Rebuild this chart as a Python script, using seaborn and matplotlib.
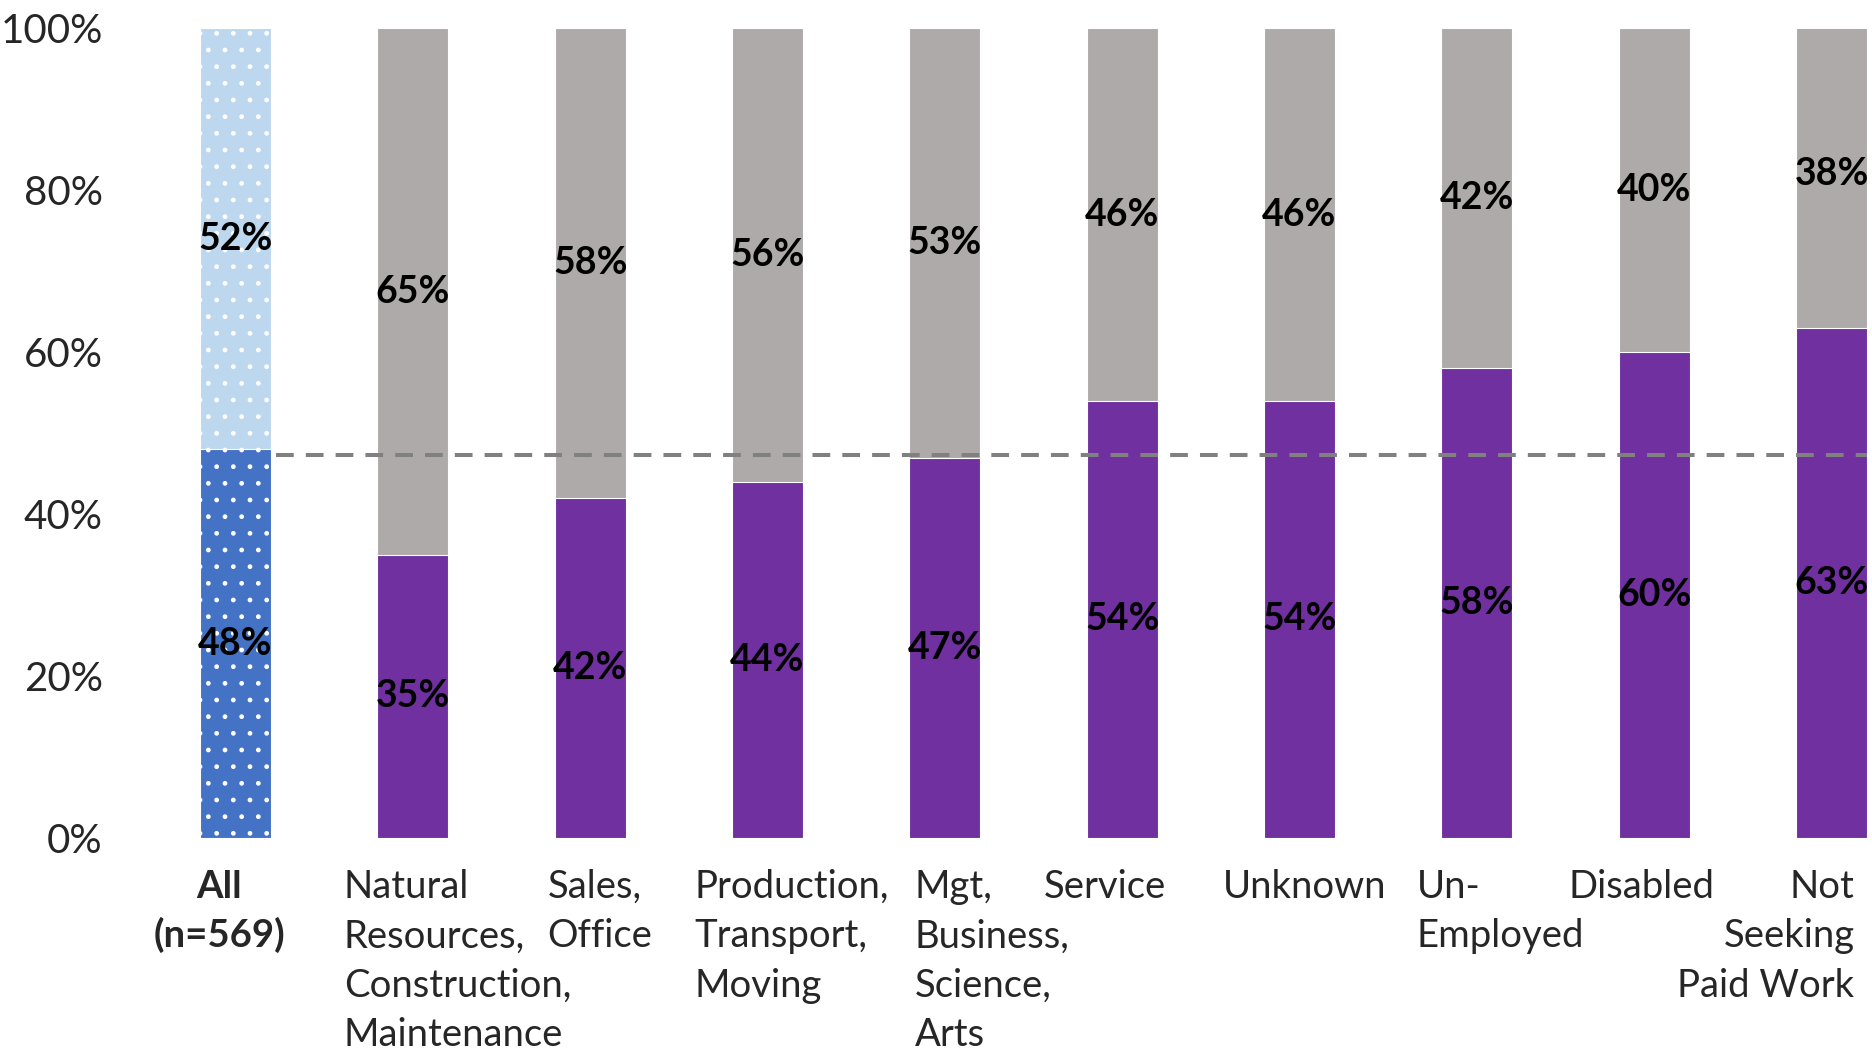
import matplotlib
matplotlib.use("Agg")
import matplotlib.pyplot as plt
import seaborn as sns
import pandas as pd

# Date
categorii = ["All\n(n=569)",
             "Natural\nResources,\nConstruction,\nMaintenance",
             "Sales,\nOffice",
             "Production,\nTransport,\nMoving",
             "Mgt,\nBusiness,\nScience,\nArts",
             "Service",
             "Unknown",
             "Un-\nEmployed",
             "Disabled",
             "Not\nSeeking\nPaid Work"]
procent_jos = [48, 35, 42, 44, 47, 54, 54, 58, 60, 63]
procent_sus = [52, 65, 58, 56, 53, 46, 46, 42, 40, 38]
linie_medie = 47.3
y_ticks = [0, 20, 40, 60, 80, 100]

# Stiluri
culori_jos = ["#4472C4"] + ["#7030A0"] * 9
culori_sus = ["#BDD7EE"] + ["#AEAAAA"] * 9
# aliniere etichete pe axa x (deplasare fata de centrul barei, in unitati de categorie)
aliniere = [("center", -0.09), ("left", -0.39), ("left", -0.24), ("left", -0.41),
            ("left", -0.17), ("center", -0.10), ("center", 0.03), ("left", -0.34),
            ("center", -0.07), ("right", 0.13)]

sns.set_style("white")
plt.rcParams["font.family"] = ["Lato", "DejaVu Sans"]

df = pd.DataFrame({"Categorie": categorii,
                   "Jos": procent_jos,
                   "Sus": procent_sus})
df["Total"] = df["Jos"] + df["Sus"]

fig = plt.figure(figsize=(18.72, 10.51), dpi=100)
ax = fig.add_axes([200 / 1872, 213 / 1051, 1667 / 1872, 809.5 / 1051])

# Bara totala (segmentul de sus) si apoi segmentul de jos peste ea
sns.barplot(data=df, x="Categorie", y="Total", hue="Categorie", palette=culori_sus,
            legend=False, width=0.4, saturation=1, edgecolor="white", linewidth=0.8, ax=ax)
sns.barplot(data=df, x="Categorie", y="Jos", hue="Categorie", palette=culori_jos,
            legend=False, width=0.4, saturation=1, edgecolor="white", linewidth=0.8, ax=ax)

# Model cu puncte pentru prima bara
for bara in list(ax.containers[0]) + list(ax.containers[len(categorii)]):
    bara.set_hatch(".")

# Linia medie
ax.hlines(linie_medie, 0.23, len(categorii) - 0.8, colors="#808080",
          linestyles=(0, (4.4, 3.0)), linewidth=2.9, zorder=5)

# Etichete procente
for i, (jos, sus) in enumerate(zip(procent_jos, procent_sus)):
    ax.text(i, jos / 2, f"{jos}%", ha="center", va="center",
            fontsize=27, fontweight="bold", color="black", zorder=6)
    ax.text(i, jos + sus / 2, f"{sus}%", ha="center", va="center",
            fontsize=27, fontweight="bold", color="black", zorder=6)

# Etichete categorii, rand cu rand
trans = matplotlib.transforms.blended_transform_factory(ax.transData, ax.transAxes)
for i, (eticheta, (ha, dx)) in enumerate(zip(categorii, aliniere)):
    for k, rand in enumerate(eticheta.split("\n")):
        ax.annotate(rand, xy=(i + dx, 0), xycoords=trans,
                    xytext=(0, -43 - 35.7 * k), textcoords="offset points",
                    ha=ha, va="baseline", fontsize=27.5,
                    fontweight="bold" if i == 0 else "normal")

ax.set_xlim(-0.2, len(categorii) - 0.8)
ax.set_ylim(0, 100)
ax.set_yticks(y_ticks)
ax.set_yticklabels([f"{v}%" for v in y_ticks], fontsize=29)
ax.set_xticks([])
ax.set_xlabel("")
ax.set_ylabel("")
ax.tick_params(axis="y", length=0, pad=70)
sns.despine(ax=ax, left=True, bottom=True)

fig.savefig("out.png", dpi=100)
